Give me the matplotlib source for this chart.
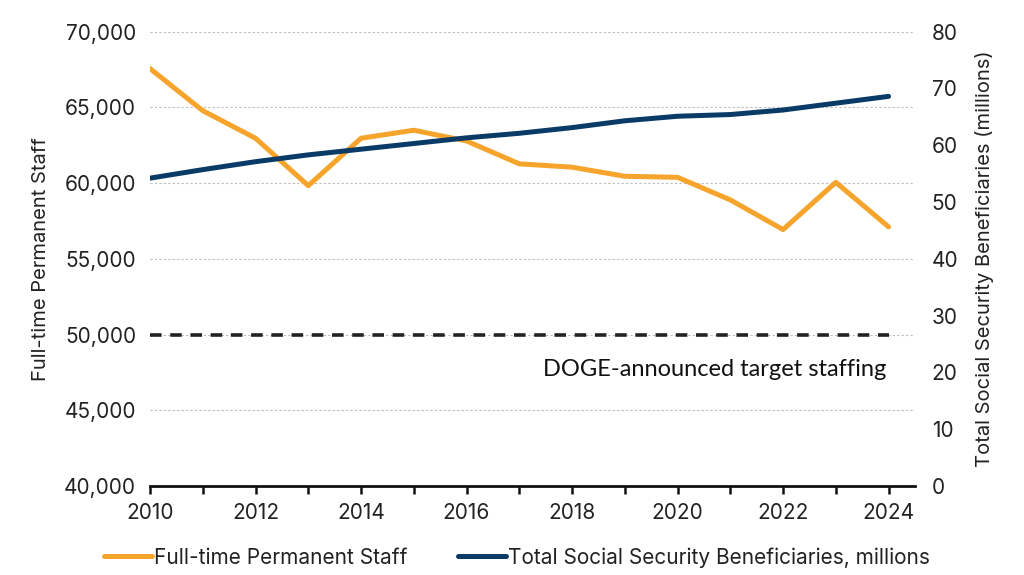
import matplotlib.pyplot as plt
from matplotlib.ticker import FuncFormatter, MultipleLocator

years = list(range(2010, 2025))
staff = [67560, 64780, 62960, 59830, 62960, 63490, 62780, 61270,
         61050, 60450, 60380, 58890, 56930, 60050, 57110]
beneficiaries = [54.2, 55.7, 57.1, 58.3, 59.3, 60.3, 61.3, 62.1,
                 63.1, 64.3, 65.1, 65.4, 66.2, 67.4, 68.6]
target_staff = 50000

orange = '#F6A42C'
navy = '#0A3A66'
plt.rcParams['font.family'] = ['Inter', 'DejaVu Sans']

fig = plt.figure(figsize=(10.24, 5.75), dpi=100)
ax = fig.add_axes([0.1465, 0.1548, 0.747, 0.7902])
ax2 = ax.twinx()

# grid on left axis
for v in range(45000, 70001, 5000):
    ax.axhline(v, color='#BBBBBB', lw=0.8, ls=(0, (2, 2)), zorder=0)

ax.plot(years, [target_staff] * len(years), color='#222222', lw=2.6,
        ls=(0, (3.2, 2.4)), zorder=2)
ax.text(2023.95, 47700, 'DOGE-announced target staffing', ha='right',
        va='center', fontsize=17, family=['Lato', 'DejaVu Sans'], color='#111111')

l1, = ax.plot(years, staff, color=orange, lw=3.6, solid_capstyle='round',
              label='Full-time Permanent Staff', zorder=3)
l2, = ax2.plot(years, beneficiaries, color=navy, lw=3.6, solid_capstyle='round',
               label='Total Social Security Beneficiaries, millions', zorder=3)

ax.set_xlim(2010, 2024.5)
ax.set_ylim(40000, 70000)
ax2.set_ylim(0, 80)
ax.xaxis.set_major_locator(MultipleLocator(2))
ax.xaxis.set_minor_locator(MultipleLocator(1))
ax.yaxis.set_major_locator(MultipleLocator(5000))
ax2.yaxis.set_major_locator(MultipleLocator(10))
ax.yaxis.set_major_formatter(FuncFormatter(lambda v, p: f'{int(v):,}'))

for a in (ax, ax2):
    for s in ('top', 'left', 'right'):
        a.spines[s].set_visible(False)
ax2.spines['bottom'].set_visible(False)
ax.spines['bottom'].set_linewidth(2)
ax.spines['bottom'].set_color('#111111')

ax.tick_params(axis='x', which='both', direction='out', length=6, width=1.8,
               color='#111111', labelsize=15, pad=6, labelcolor='#222222')
ax.tick_params(axis='y', length=0, labelsize=15, pad=10, labelcolor='#222222')
ax2.tick_params(axis='y', length=0, labelsize=15, pad=12, labelcolor='#222222')

ax.set_ylabel('Full-time Permanent Staff', fontsize=14.5, color='#222222', labelpad=10)
ax2.set_ylabel('Total Social Security Beneficiaries (millions)', fontsize=14.5,
               color='#222222', labelpad=12)

fig.legend(handles=[l1, l2], loc='lower center', bbox_to_anchor=(0.505, -0.02),
           ncol=2, frameon=False, fontsize=15, handlelength=2.3,
           handletextpad=0.1, columnspacing=2.4, labelcolor='#222222')

fig.savefig('out.png', dpi=100)
